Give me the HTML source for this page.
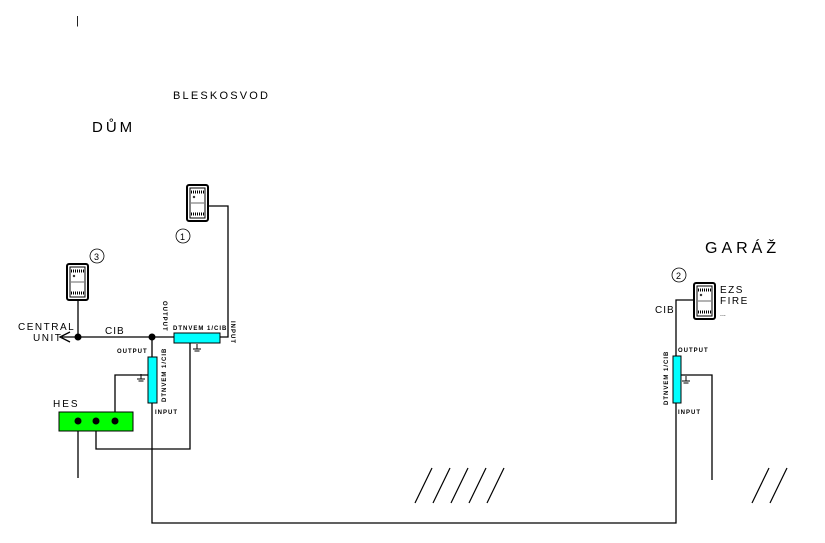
<!DOCTYPE html>
<html><head><style>body{margin:0;background:#fff}svg{display:block}text{font-family:"Liberation Sans",sans-serif;fill:#000}</style></head><body>
<svg width="825" height="543" viewBox="0 0 825 543" xmlns="http://www.w3.org/2000/svg">
<defs>
<g id="dev">
<rect x="0" y="0" width="21" height="36" rx="2" fill="#fff" stroke="#000" stroke-width="2"/>
<rect x="3" y="3" width="15" height="30" fill="#fff" stroke="#000" stroke-width="1"/>
<line x1="4" y1="7" x2="17" y2="7" stroke="#000" stroke-width="3" stroke-dasharray="1 1"/>
<line x1="4" y1="29" x2="17" y2="29" stroke="#000" stroke-width="3" stroke-dasharray="1 1"/>
<line x1="4" y1="18" x2="17" y2="18" stroke="#000" stroke-width="0.6"/>
<path d="M6 11 l2 2 M6 13 l2 -2" stroke="#000" stroke-width="0.8"/>
</g>
<g id="gnd"><line x1="0" y1="0" x2="0" y2="5" stroke="#000"/><line x1="-4" y1="5" x2="4" y2="5" stroke="#000"/><line x1="-2.5" y1="7" x2="2.5" y2="7" stroke="#000"/></g>
</defs>
<text x="76" y="24" font-size="11">|</text>
<text x="173" y="99" font-size="11" letter-spacing="2.2">BLESKOSVOD</text>
<text x="92" y="132" font-size="15" letter-spacing="3">DŮM</text>
<text x="705" y="253" font-size="16" letter-spacing="4">GARÁŽ</text>

<g fill="none" stroke="#000" stroke-width="1.3">
<polyline points="208,206 228,206 228,337 220,337"/>
<line x1="62" y1="337" x2="175" y2="337"/>
<polyline points="70,332 60,337 70,342"/>
<line x1="78" y1="300" x2="78" y2="337"/>
<line x1="152" y1="337" x2="152" y2="357"/>
<polyline points="190,343 190,449 96,449 96,421"/>
<polyline points="152,403 152,523 676,523 676,403"/>
<polyline points="148,375 115,375 115,421"/>
<line x1="78" y1="421" x2="78" y2="478"/>
<polyline points="694,300 676,300 676,356"/>
<polyline points="681,375 712,375 712,480"/>
</g>
<use href="#dev" x="187" y="185"/>
<use href="#dev" x="67" y="264"/>
<use href="#dev" x="694" y="283"/>
<circle cx="183" cy="236" r="7" fill="#fff" stroke="#000" stroke-width="0.8"/><text x="180" y="240" font-size="9">1</text>
<circle cx="97" cy="256" r="7" fill="#fff" stroke="#000" stroke-width="0.8"/><text x="94" y="260" font-size="9">3</text>
<circle cx="679" cy="275" r="7" fill="#fff" stroke="#000" stroke-width="0.8"/><text x="676" y="279" font-size="9">2</text>

<rect x="174" y="333" width="46" height="10" fill="#00ffff" stroke="#000"/>
<rect x="148" y="357" width="9" height="46" fill="#00ffff" stroke="#000"/>
<rect x="673" y="356" width="8" height="47" fill="#00ffff" stroke="#000"/>
<rect x="59" y="412" width="74" height="19" fill="#00ff00" stroke="#000"/>
<circle cx="78" cy="421" r="3.5"/><circle cx="96" cy="421" r="3.5"/><circle cx="115" cy="421" r="3.5"/>
<circle cx="78" cy="337" r="3.5"/><circle cx="152" cy="337" r="3.5"/>
<use href="#gnd" x="197" y="344"/>
<use href="#gnd" x="141" y="374"/>
<use href="#gnd" x="686" y="376"/>

<g font-size="6" letter-spacing="1" font-weight="bold">
<text x="173" y="330">DTNVEM 1/CIB</text>
<text x="117" y="353">OUTPUT</text>
<text x="155" y="414">INPUT</text>
<text x="678" y="352">OUTPUT</text>
<text x="678" y="414">INPUT</text>
<text transform="translate(163,301) rotate(90)">OUTPUT</text>
<text transform="translate(231,321) rotate(90)">INPUT</text>
<text transform="translate(166,402) rotate(-90)">DTNVEM 1/CIB</text>
<text transform="translate(668,405) rotate(-90)">DTNVEM 1/CIB</text>
</g>
<text x="18" y="330" font-size="10" letter-spacing="1.5">CENTRAL</text>
<text x="33" y="341" font-size="10" letter-spacing="1.5">UNIT</text>
<text x="105" y="334" font-size="10" letter-spacing="1">CIB</text>
<text x="53" y="407" font-size="10" letter-spacing="2">HES</text>
<text x="655" y="313" font-size="10" letter-spacing="1">CIB</text>
<text x="720" y="293" font-size="10" letter-spacing="1.5">EZS</text>
<text x="720" y="304" font-size="10" letter-spacing="1.5">FIRE</text>
<text x="720" y="316" font-size="7">...</text>
<g stroke="#000" stroke-width="1.2">
<line x1="415" y1="503" x2="432" y2="468"/><line x1="433" y1="503" x2="450" y2="468"/><line x1="451" y1="503" x2="468" y2="468"/><line x1="469" y1="503" x2="486" y2="468"/><line x1="487" y1="503" x2="504" y2="468"/>
<line x1="752" y1="503" x2="769" y2="468"/><line x1="770" y1="503" x2="787" y2="468"/>
</g>
</svg>
</body></html>
